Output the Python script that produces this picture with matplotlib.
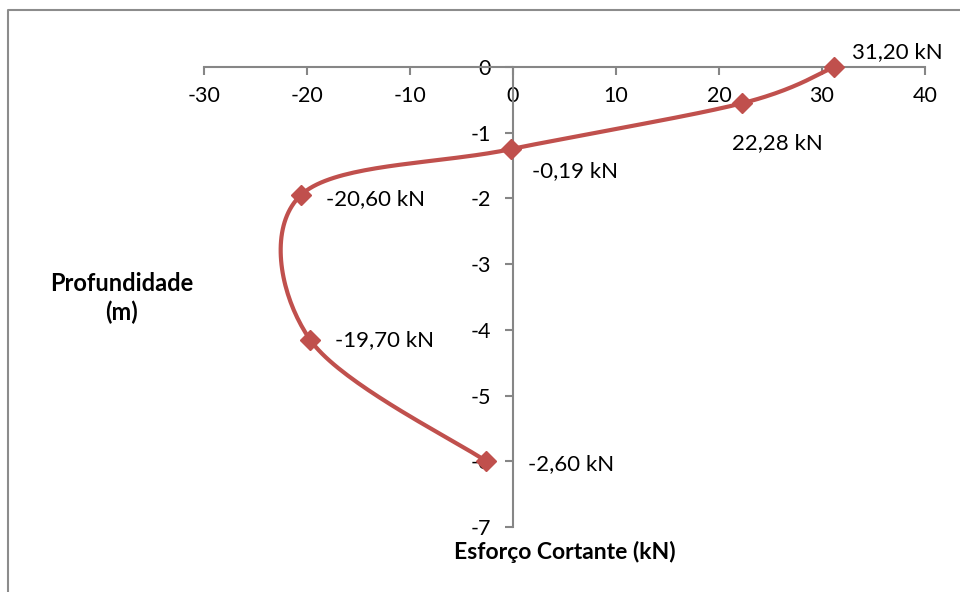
import matplotlib
matplotlib.use('Agg')
import matplotlib.pyplot as plt
import numpy as np
from matplotlib.lines import Line2D

plt.rcParams['font.family'] = ['Lato', 'DejaVu Sans']

# dados
esforco = [31.20, 22.28, -0.19, -20.60, -19.70, -2.60]
profundidade = [0.0, -0.55, -1.25, -1.95, -4.15, -6.0]
rotulos = ['31,20 kN', '22,28 kN', '-0,19 kN', '-20,60 kN', '-19,70 kN', '-2,60 kN']
x_ticks = [-30, -20, -10, 0, 10, 20, 30, 40]
y_ticks = [0, -1, -2, -3, -4, -5, -6, -7]

cor = '#C0504D'
cinza = '#868686'

W, H = 960, 592
fig = plt.figure(figsize=(9.6, 5.92), dpi=100)
ax = fig.add_axes([204 / W, (H - 527) / H, (925 - 204) / W, (527 - 67) / H])
ax.set_xlim(-30, 40)
ax.set_ylim(-7, 0)

# curva suavizada (estilo excel): bezier com pontos de controle de catmull-rom
sx = (925 - 204) / 70.0
sy = (527 - 67) / 7.0
px = np.array(esforco) * sx
py = np.array(profundidade) * sy
P = np.column_stack([px, py])
n = len(P)
curva = []
t = np.linspace(0, 1, 40)
for i in range(n - 1):
    p0 = P[max(i - 1, 0)]
    p1 = P[i]
    p2 = P[i + 1]
    p3 = P[min(i + 2, n - 1)]
    c1 = p1 + (p2 - p0) / 6
    c2 = p2 - (p3 - p1) / 6
    seg = ((1 - t) ** 3)[:, None] * p1 + (3 * (1 - t) ** 2 * t)[:, None] * c1 \
        + (3 * (1 - t) * t ** 2)[:, None] * c2 + (t ** 3)[:, None] * p2
    curva.append(seg)
curva = np.vstack(curva)
ax.plot(curva[:, 0] / sx, curva[:, 1] / sy, color=cor, lw=3, clip_on=False,
        solid_capstyle='round', zorder=3)
ax.plot(esforco, profundidade, 'D', color=cor, ms=10, clip_on=False, zorder=4)

# rotulos dos pontos (offsets em pixels)
offs = [(18, 15, 'left'), (35, -40, 'center'), (21, -22, 'left'),
        (25, -4, 'left'), (25, 0, 'left'), (42, -3, 'left')]
for xv, yv, txt, (dx, dy, ha) in zip(esforco, profundidade, rotulos, offs):
    ax.annotate(txt, (xv, yv), xytext=(dx * 0.72, dy * 0.72),
                textcoords='offset points', ha=ha, va='center',
                fontsize=16, color='black')

# eixos cruzando na origem
for s in ['top', 'right']:
    ax.spines[s].set_visible(False)
ax.spines['bottom'].set_position(('data', 0))
ax.spines['left'].set_position(('data', 0))
for s in ['bottom', 'left']:
    ax.spines[s].set_color(cinza)
    ax.spines[s].set_linewidth(1.5)
ax.set_xticks(x_ticks)
ax.set_yticks(y_ticks)
ax.set_xticklabels([str(v) for v in x_ticks])
ax.set_yticklabels([str(v) for v in y_ticks])
ax.tick_params(axis='both', direction='out', length=6, width=1.5, color=cinza,
               labelsize=15.5, labelcolor='black')
ax.tick_params(axis='x', pad=8)
ax.tick_params(axis='y', pad=10)
ax.patch.set_alpha(0)

fig.text(122 / W, 1 - 298 / H, 'Profundidade\n(m)', ha='center', va='center',
         fontsize=17, fontweight='bold', linespacing=1.3)
fig.text(565 / W, 1 - 552 / H, 'Esforço Cortante (kN)', ha='center', va='center',
         fontsize=16.5, fontweight='bold')

# borda da area do grafico
fig.add_artist(Line2D([8 / W, 8 / W, 1.0], [0, 1 - 10 / H, 1 - 10 / H],
                      transform=fig.transFigure, color='#8c8c8c', lw=1.5))

fig.savefig('out.png', dpi=100)
